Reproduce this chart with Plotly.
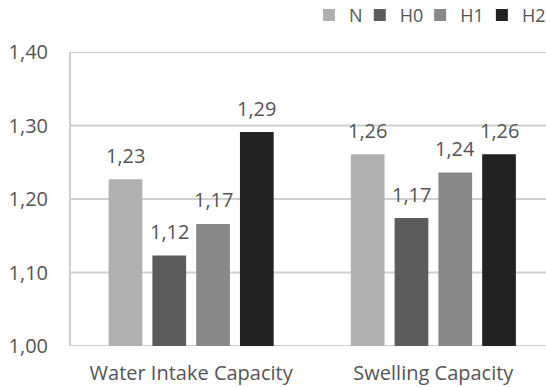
import plotly.graph_objects as go

# Categories and series values
categories = ["Water Intake Capacity", "Swelling Capacity"]
series_names = ["N", "H0", "H1", "H2"]
values_N = [1.227, 1.261]
values_H0 = [1.123, 1.174]
values_H1 = [1.166, 1.236]
values_H2 = [1.291, 1.261]
y_ticks = [1.00, 1.10, 1.20, 1.30, 1.40]

series_values = [values_N, values_H0, values_H1, values_H2]
colors = ["#b0b0b0", "#5c5c5c", "#888888", "#222222"]

FONT = "Open Sans"
FONT_SIZE = 20
LEGEND_FONT_SIZE = 18
TEXT_COLOR = "#555555"
GRID_COLOR = "#cfcfcf"
BARGAP = 0.277
BARGROUPGAP = 0.23

fig = go.Figure()
legend_ids = ["legend", "legend2", "legend3", "legend4"]
for name, vals, col, lg in zip(series_names, series_values, colors, legend_ids):
    fig.add_trace(go.Bar(
        name=name,
        x=categories,
        y=vals,
        marker=dict(color=col, line=dict(width=0)),
        legend=lg,
    ))

# Value labels above each bar, placed at each bar's centre within its group
n = len(series_names)
slot = (1 - BARGAP) / n
annotations = []
for j, vals in enumerate(series_values):
    for i, v in enumerate(vals):
        annotations.append(dict(
            x=i + (j - (n - 1) / 2) * slot,
            y=v,
            xref="x", yref="y",
            text=f"{v:.2f}".replace(".", ","),
            showarrow=False,
            yanchor="middle",
            yshift=24,
            font=dict(family=FONT, size=FONT_SIZE, color=TEXT_COLOR),
        ))

# Horizontal gridlines at every tick, including both ends of the range
shapes = [
    dict(type="line", xref="paper", yref="y", x0=0, x1=1, y0=t, y1=t,
         line=dict(color=GRID_COLOR, width=2), layer="between")
    for t in y_ticks
]

# One single-entry legend per series, laid out in a row along the top
legend_x = [0.501, 0.608, 0.735, 0.865]
legend_common = dict(
    orientation="h",
    xanchor="left",
    y=1.125, yanchor="middle",
    font=dict(family=FONT, size=LEGEND_FONT_SIZE, color=TEXT_COLOR),
    itemwidth=30,
    bgcolor="rgba(0,0,0,0)",
)

fig.update_layout(
    width=546, height=387,
    margin=dict(l=71, r=0, t=52, b=41, autoexpand=False),
    paper_bgcolor="white",
    plot_bgcolor="white",
    barmode="group",
    bargap=BARGAP,
    bargroupgap=BARGROUPGAP,
    separators=", ",
    font=dict(family=FONT, size=FONT_SIZE, color=TEXT_COLOR),
    showlegend=True,
    legend=dict(x=legend_x[0], **legend_common),
    legend2=dict(x=legend_x[1], **legend_common),
    legend3=dict(x=legend_x[2], **legend_common),
    legend4=dict(x=legend_x[3], **legend_common),
    annotations=annotations,
    shapes=shapes,
)

fig.update_xaxes(
    type="category",
    range=[-0.496, 1.465],
    showgrid=False,
    showline=False,
    zeroline=False,
    ticks="",
    ticklabelstandoff=13,
    tickfont=dict(family=FONT, size=FONT_SIZE, color=TEXT_COLOR),
)

fig.update_yaxes(
    range=[1.0, 1.4],
    tickvals=y_ticks,
    tickformat=".2f",
    showgrid=False,
    showline=True,
    linecolor=GRID_COLOR,
    linewidth=2,
    zeroline=False,
    ticks="",
    ticklabelstandoff=17,
    tickfont=dict(family=FONT, size=FONT_SIZE, color=TEXT_COLOR),
)

fig.write_html("out.html")
